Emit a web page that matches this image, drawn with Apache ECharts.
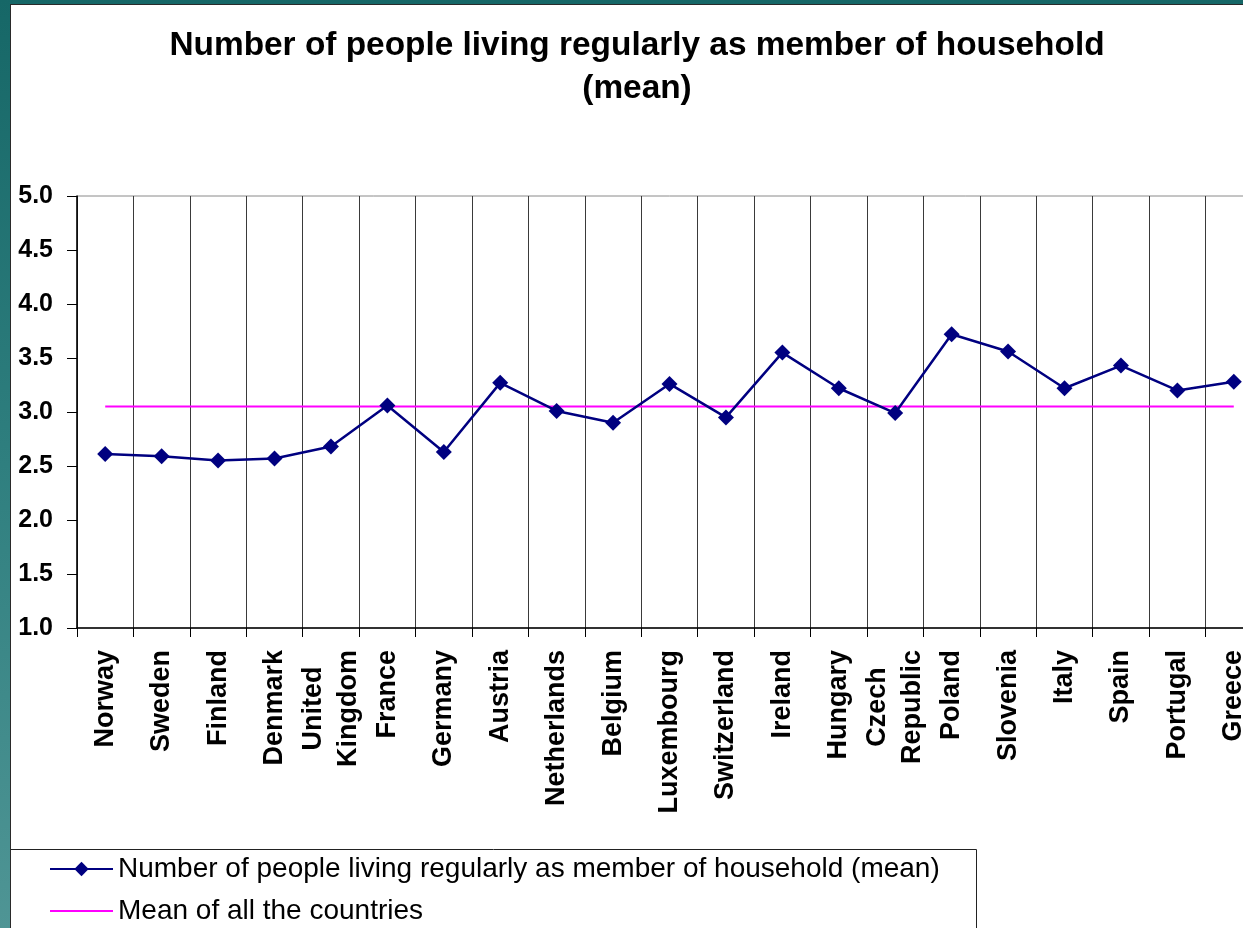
<!DOCTYPE html>
<html>
<head>
<meta charset="utf-8">
<script src="https://cdn.jsdelivr.net/npm/echarts@6/dist/echarts.min.js"></script>
<style>
  html, body { margin: 0; padding: 0; width: 100%; height: 100%; overflow: hidden; }
  body { background: linear-gradient(to bottom, #166767 0%, #2f7f7f 50%, #4f9595 100%); position: relative; }
  #chart { position: absolute; left: 10px; top: 4px; width: 1252px; height: 940px;
           background: #ffffff; border: 1px solid #2a2a2a; }
</style>
</head>
<body>
<div id="chart"></div>
<script>
// Countries along the x axis
const categories = ['Norway', 'Sweden', 'Finland', 'Denmark', 'United\nKingdom', 'France', 'Germany',
  'Austria', 'Netherlands', 'Belgium', 'Luxembourg', 'Switzerland', 'Ireland', 'Hungary',
  'Czech\nRepublic', 'Poland', 'Slovenia', 'Italy', 'Spain', 'Portugal', 'Greece'];

// Mean household size per country
const householdMean = [2.61, 2.59, 2.55, 2.57, 2.68, 3.06, 2.63, 3.27, 3.01, 2.90, 3.26,
  2.95, 3.55, 3.22, 2.99, 3.72, 3.56, 3.22, 3.43, 3.20, 3.28];

// Mean over all countries, drawn as a flat reference line
const overallMean = [3.05, 3.05, 3.05, 3.05, 3.05, 3.05, 3.05, 3.05, 3.05, 3.05, 3.05,
  3.05, 3.05, 3.05, 3.05, 3.05, 3.05, 3.05, 3.05, 3.05, 3.05];

// Value axis ticks
const yMin = 1.0, yMax = 5.0, yStep = 0.5;

const seriesNames = ['Number of people living regularly as member of household (mean)',
  'Mean of all the countries'];
const titleText = 'Number of people living regularly as member of household\n(mean)';

const FONT = '"Liberation Sans", Arial, Helvetica, sans-serif';

const chart = echarts.init(document.getElementById('chart'), null, { renderer: 'canvas' });

chart.setOption({
  animation: false,
  backgroundColor: '#ffffff',
  textStyle: { fontFamily: FONT },
  title: {
    text: titleText,
    left: 'center',
    top: 14,
    textStyle: { fontFamily: FONT, fontSize: 33.4, fontWeight: 'bold', color: '#000', lineHeight: 43, align: 'center' }
  },
  graphic: [{
    type: 'rect',
    left: -1, top: 844,
    shape: { width: 966, height: 120 },
    style: { fill: '#ffffff', stroke: '#222', lineWidth: 1 },
    z: 0
  }],
  legend: {
    orient: 'vertical',
    left: 33, top: 844,
    itemWidth: 63, itemHeight: 18,
    itemGap: 12,
    textStyle: { fontFamily: FONT, fontSize: 28, color: '#000', lineHeight: 30 },
    data: [
      { name: seriesNames[0] },
      { name: seriesNames[1], itemStyle: { opacity: 0 } }
    ],
    z: 5
  },
  grid: {
    left: 66, top: 191, right: 1, bottom: 317,
    show: true, borderColor: '#8a8a8a', borderWidth: 1
  },
  xAxis: {
    type: 'category',
    data: categories,
    boundaryGap: true,
    axisLine: { lineStyle: { color: '#000', width: 1.5 } },
    axisTick: { show: true, length: 9, alignWithLabel: false, lineStyle: { color: '#000', width: 1 } },
    splitLine: { show: true, interval: 0, lineStyle: { color: '#3a3a3a', width: 1 } },
    axisLabel: {
      interval: 0,
      rotate: 90,
      margin: 22,
      color: '#000',
      fontFamily: FONT,
      fontSize: 27,
      fontWeight: 'bold',
      lineHeight: 35,
      formatter: function (v) {
        return v.split('\n').map(function (s) { return '{c|' + s + '}'; }).join('\n');
      },
      rich: {
        c: { align: 'center', fontFamily: FONT, fontSize: 27, fontWeight: 'bold', color: '#000', lineHeight: 35 }
      }
    }
  },
  yAxis: {
    type: 'value',
    min: yMin, max: yMax, interval: yStep,
    axisLine: { show: true, lineStyle: { color: '#000', width: 1.5 } },
    axisTick: { show: true, length: 10, lineStyle: { color: '#000', width: 1 } },
    splitLine: { show: false },
    axisLabel: {
      margin: 24,
      color: '#000',
      fontFamily: FONT,
      fontSize: 25,
      fontWeight: 'bold',
      formatter: function (v) { return v.toFixed(1); }
    }
  },
  series: [
    {
      name: seriesNames[0],
      type: 'line',
      data: householdMean,
      symbol: 'diamond',
      symbolSize: 16,
      showAllSymbol: true,
      lineStyle: { color: '#000080', width: 2.5 },
      itemStyle: { color: '#000080' },
      z: 4
    },
    {
      name: seriesNames[1],
      type: 'line',
      data: overallMean,
      symbol: 'none',
      lineStyle: { color: '#ff00ff', width: 2 },
      itemStyle: { color: '#ff00ff' },
      z: 3
    }
  ]
});
</script>
</body>
</html>
